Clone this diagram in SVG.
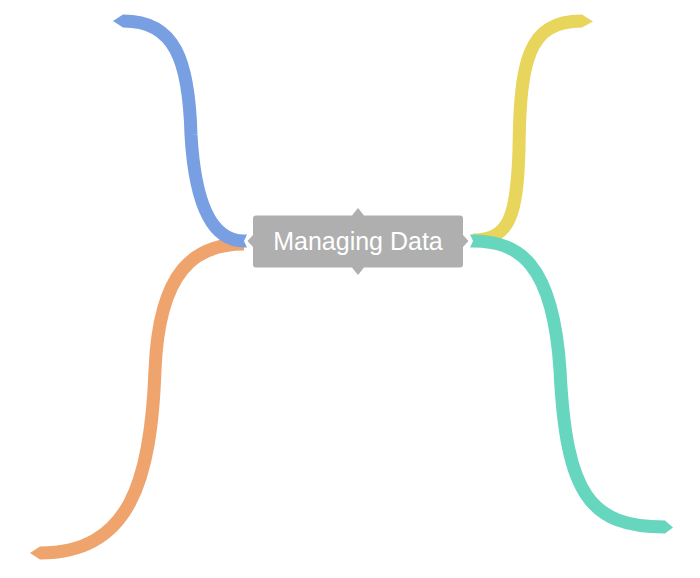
<svg xmlns="http://www.w3.org/2000/svg" width="700" height="578" viewBox="0 0 700 578">
<style>
.br{fill:none;stroke-width:13;stroke-linecap:butt;stroke-linejoin:round}
.blue{stroke:#779FE1}.blue-f{fill:#779FE1}
.orange{stroke:#EEA46C}.orange-f{fill:#EEA46C}
.yellow{stroke:#E8D55C}.yellow-f{fill:#E8D55C}
.teal{stroke:#67D6BF}.teal-f{fill:#67D6BF}
.node{fill:#AFAFAF;stroke:#ffffff;stroke-width:3;paint-order:stroke}
.label{font-family:"Liberation Sans",Arial,sans-serif;font-size:25px;fill:#ffffff;text-anchor:middle}
</style>
<rect width="700" height="578" fill="#ffffff"/>
<g id="connectors">
  <g id="branch-orange">
    <path class="br orange" d="M244 244 C195 244 159 270 155 370 C151 480 130 553 40 553"/>
    <polygon class="orange-f" points="40,546.5 30,553 40,559.5"/>
  </g>
  <g id="branch-blue">
    <path class="br blue" d="M244 241 C212 241 195 205 191 135 C189 60 175 21 123 21"/>
    <polygon class="blue-f" points="244,234.5 247,234.5 244,241 247,247.5 244,247.5"/>
    <polygon class="blue-f" points="123,14.5 113,21 123,27.5"/>
  </g>
  <g id="branch-yellow">
    <path class="br yellow" d="M473 240 C510 240 517 215 519 150 C520 60 528 21 582 21"/>
    <polygon class="yellow-f" points="582,14.5 593,21.5 582,27.5"/>
  </g>
  <g id="branch-teal">
    <path class="br teal" d="M473 241 C518 241 553 262 560 370 C566 495 590 527 665 527"/>
    <polygon class="teal-f" points="473,234.5 470,234.5 473,241 470,247.5 473,247.5"/>
    <polygon class="teal-f" points="665,520.5 673,527.5 665,533.5"/>
  </g>
</g>
<g id="node-managing-data">
  <path class="node" d="M256 215.5 L352 215.5 L358 208 L364 215.5 L460 215.5 Q463 215.5 463 218.5 L463 235 L468.5 241 L463 247 L463 264.5 Q463 267.5 460 267.5 L364 267.5 L358 275 L352 267.5 L256 267.5 Q253 267.5 253 264.5 L253 247 L247.5 241 L253 235 L253 218.5 Q253 215.5 256 215.5 Z"/>
  <text class="label" x="358" y="250">Managing Data</text>
</g>
</svg>
